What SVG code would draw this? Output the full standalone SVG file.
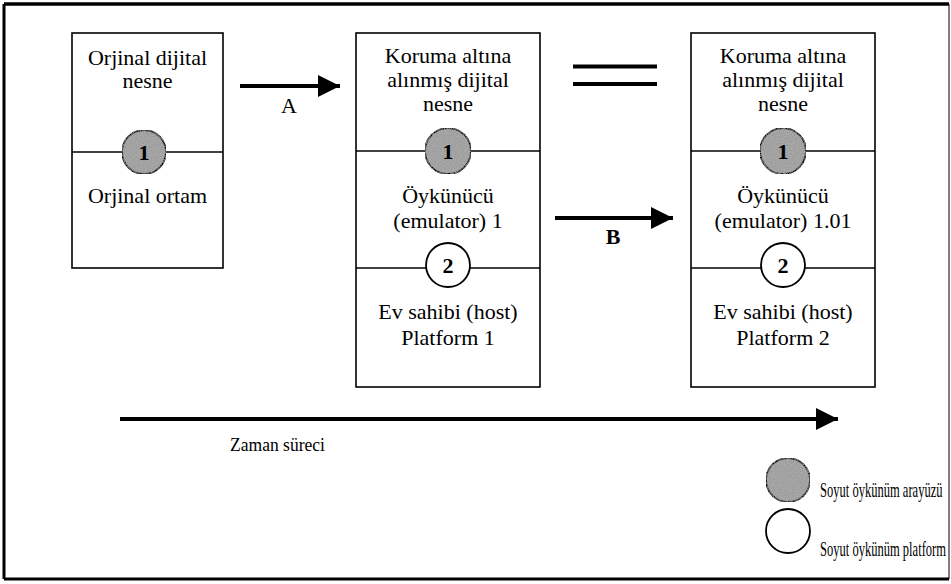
<svg xmlns="http://www.w3.org/2000/svg" width="951" height="584" viewBox="0 0 951 584">
<defs>
<style>
.t{font-family:"Liberation Serif","Times New Roman",serif;font-size:22px;fill:#000;text-anchor:middle}
.tl{font-family:"Liberation Serif","Times New Roman",serif;font-size:19px;fill:#000}
.lg{font-family:"Liberation Serif","Times New Roman",serif;font-size:22px;fill:#000}
.n{font-family:"Liberation Serif","Times New Roman",serif;font-size:22px;font-weight:bold;fill:#000;text-anchor:middle}
.box{fill:#fff;stroke:#000;stroke-width:1.6}
.div{stroke:#000;stroke-width:1.6}
.sh{fill:#a9a9a9;stroke:#000;stroke-width:1.8}
.pl{fill:#fff;stroke:#000;stroke-width:1.8}
.conn{stroke:#000;stroke-width:4;fill:none}
</style>
<filter id="speck" x="0" y="0" width="100%" height="100%">
<feTurbulence type="fractalNoise" baseFrequency="0.9" numOctaves="2" seed="3" result="noise"/>
<feColorMatrix in="noise" type="matrix" values="0 0 0 0 0.3  0 0 0 0 0.3  0 0 0 0 0.3  0 0 0 1.8 -0.6" result="dots"/>
<feComposite in="dots" in2="SourceGraphic" operator="in" result="clip"/>
<feMerge><feMergeNode in="SourceGraphic"/><feMergeNode in="clip"/></feMerge>
</filter>
<marker id="ah" viewBox="0 0 10 10" refX="10" refY="5" markerWidth="5.5" markerHeight="6" markerUnits="strokeWidth" orient="auto">
<path d="M0,0 L10,5 L0,10 Z" fill="#000"/>
</marker>
</defs>
<rect width="951" height="584" fill="#fff"/>
<g id="frame">
<line x1="4" y1="4" x2="949" y2="4" stroke="#000" stroke-width="3.5"/>
<line x1="4" y1="4" x2="4" y2="579" stroke="#000" stroke-width="3"/>
<line x1="4" y1="579" x2="949" y2="579" stroke="#000" stroke-width="3"/>
<line x1="949" y1="4" x2="949" y2="579" stroke="#000" stroke-width="1"/>
</g>
<g id="node-original">
<rect class="box" x="72" y="33" width="151" height="235"/>
<line class="div" x1="72" y1="152" x2="223" y2="152"/>
<text class="t" x="147.5" y="65">Orjinal dijital</text>
<text class="t" x="147.5" y="88">nesne</text>
<text class="t" x="147.5" y="203">Orjinal ortam</text>
<circle class="sh" cx="144" cy="152" r="22" filter="url(#speck)"/>
<text class="n" x="144" y="160">1</text>
</g>
<g id="node-emulator1">
<rect class="box" x="356" y="33" width="184" height="354"/>
<line class="div" x1="356" y1="151" x2="540" y2="151"/>
<line class="div" x1="356" y1="268" x2="540" y2="268"/>
<text class="t" x="448" y="63">Koruma altına</text>
<text class="t" x="448" y="87">alınmış dijital</text>
<text class="t" x="448" y="111">nesne</text>
<text class="t" x="448" y="203">Öykünücü</text>
<text class="t" x="448" y="228">(emulator) 1</text>
<text class="t" x="448" y="319">Ev sahibi (host)</text>
<text class="t" x="448" y="345">Platform 1</text>
<circle class="sh" cx="448" cy="151" r="23" filter="url(#speck)"/>
<text class="n" x="448" y="159">1</text>
<circle class="pl" cx="448" cy="265" r="22"/>
<text class="n" x="448" y="273">2</text>
</g>
<g id="node-emulator2">
<rect class="box" x="691" y="33" width="184" height="354"/>
<line class="div" x1="691" y1="151" x2="875" y2="151"/>
<line class="div" x1="691" y1="268" x2="875" y2="268"/>
<text class="t" x="783" y="63">Koruma altına</text>
<text class="t" x="783" y="87">alınmış dijital</text>
<text class="t" x="783" y="111">nesne</text>
<text class="t" x="783" y="203">Öykünücü</text>
<text class="t" x="783" y="228">(emulator) 1.01</text>
<text class="t" x="783" y="319">Ev sahibi (host)</text>
<text class="t" x="783" y="345">Platform 2</text>
<circle class="sh" cx="783" cy="151" r="23" filter="url(#speck)"/>
<text class="n" x="783" y="159">1</text>
<circle class="pl" cx="783" cy="265" r="22"/>
<text class="n" x="783" y="273">2</text>
</g>
<g id="connectors">
<line class="conn" x1="240" y1="86" x2="340" y2="86" marker-end="url(#ah)"/>
<text class="t" x="289" y="113">A</text>
<line class="conn" x1="573" y1="66.5" x2="657" y2="66.5" stroke-width="4.5"/>
<line class="conn" x1="573" y1="84" x2="657" y2="84" stroke-width="4.5"/>
<line class="conn" x1="555" y1="218" x2="673" y2="218" marker-end="url(#ah)"/>
<text class="n" x="613" y="244">B</text>
<line class="conn" x1="120" y1="419" x2="838" y2="419" stroke-width="5" marker-end="url(#ah)"/>
<text class="tl" x="230" y="451" textLength="95" lengthAdjust="spacingAndGlyphs">Zaman süreci</text>
</g>
<g id="legend">
<circle class="sh" cx="788" cy="480" r="22" filter="url(#speck)"/>
<text class="lg" transform="translate(820,497) scale(0.57,1)">Soyut öykünüm arayüzü</text>
<circle class="pl" cx="788" cy="531" r="22"/>
<text class="lg" transform="translate(820,556) scale(0.57,1)">Soyut öykünüm platform</text>
</g>
</svg>
